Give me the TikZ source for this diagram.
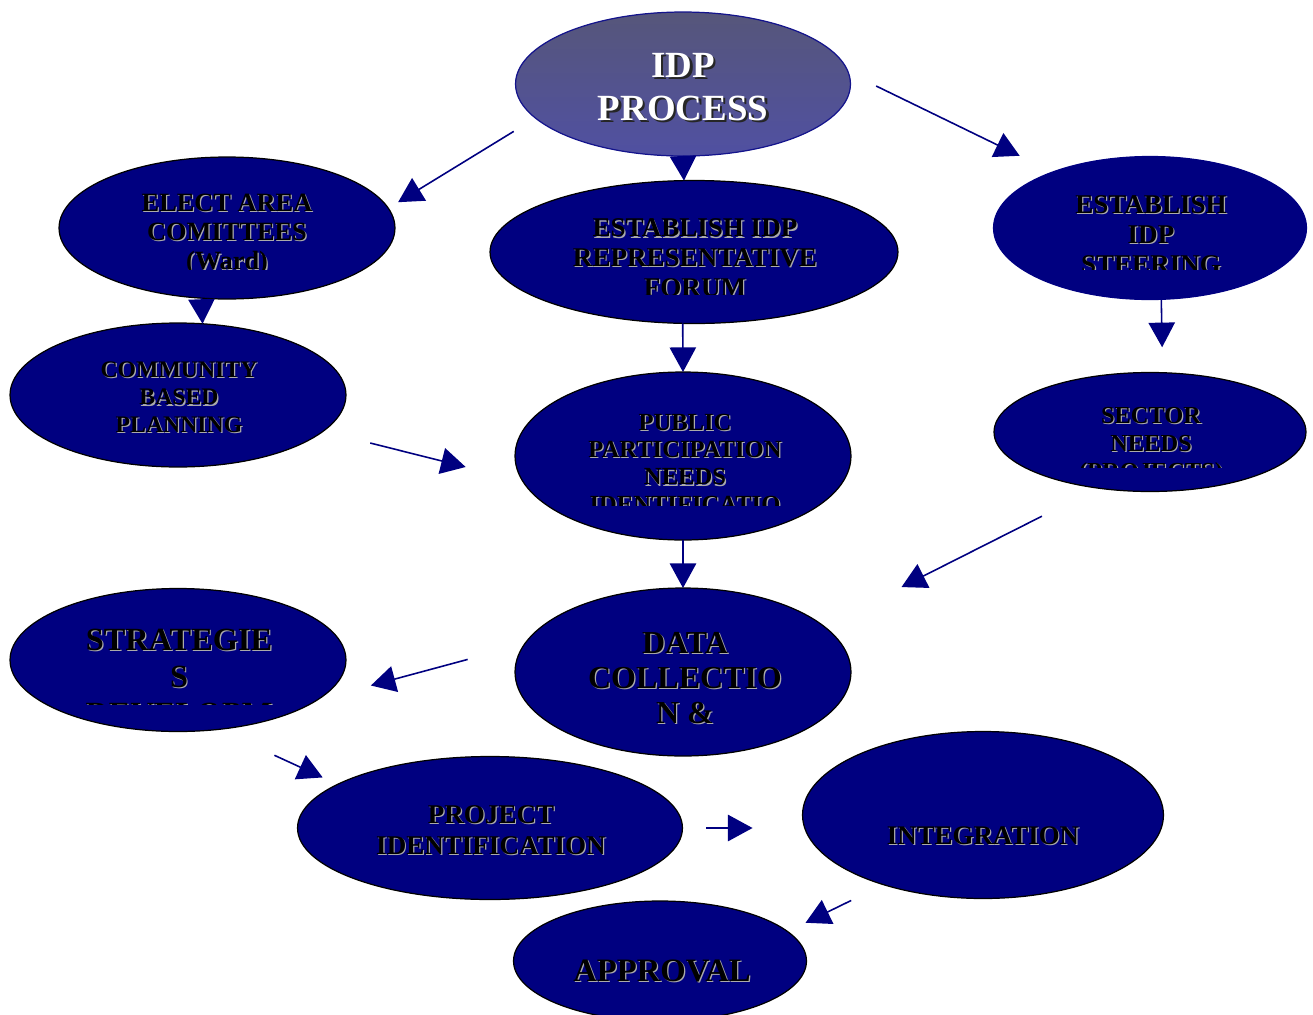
\documentclass[tikz,border=0pt]{standalone}
\usepackage{fontspec}
\setmainfont{Liberation Serif}
\usetikzlibrary{arrows.meta,shapes.geometric}

\definecolor{navyfill}{RGB}{0,0,128}
\definecolor{arrowblue}{RGB}{0,0,128}
\definecolor{embgray}{RGB}{170,170,170}
\definecolor{idptop}{RGB}{86,86,122}
\definecolor{idpbottom}{RGB}{80,80,162}
\definecolor{idpline}{RGB}{20,20,140}

\newcommand{\fsz}[2]{\fontsize{#1pt}{#2pt}\selectfont\bfseries}
\newcommand{\emb}[1]{\leavevmode\rlap{\hspace{0.7pt}\raisebox{-0.7pt}{\textcolor{embgray}{#1}}}#1}
\newcommand{\embw}[1]{\leavevmode\rlap{\hspace{1.4pt}\raisebox{-1.4pt}{\textcolor{black!85}{#1}}}\textcolor{white}{#1}}

\begin{document}
\begin{tikzpicture}[
    x=0.02cm, y=-0.02cm,
    oval/.style={ellipse, draw=black, line width=0.7pt, fill=navyfill,
                 inner sep=0pt, outer sep=0pt},
    txt/.style={align=center, anchor=north, inner sep=0pt, text=black},
    arr/.style={-{Triangle[length=14pt, width=15pt]}, draw=arrowblue, fill=arrowblue, line width=0.9pt}
]

\useasboundingbox (0,0) rectangle (1313,1015);

\node[oval, minimum width=6.7cm, minimum height=2.88cm,
      top color=idptop, bottom color=idpbottom, draw=idpline] (idp) at (683,84) {};
\node[oval, minimum width=6.72cm, minimum height=2.84cm] (elect) at (227,228) {};
\node[oval, minimum width=8.16cm, minimum height=2.86cm] (forum) at (694,252) {};
\node[oval, minimum width=6.26cm, minimum height=2.86cm, draw=navyfill] (steering) at (1150,228) {};
\node[oval, minimum width=6.72cm, minimum height=2.88cm] (community) at (178,395) {};
\node[oval, minimum width=6.72cm, minimum height=3.36cm] (public) at (683,456) {};
\node[oval, minimum width=6.24cm, minimum height=2.38cm] (sector) at (1150,432) {};
\node[oval, minimum width=6.72cm, minimum height=2.86cm] (strategies) at (178,660) {};
\node[oval, minimum width=6.72cm, minimum height=3.36cm] (data) at (683,672) {};
\node[oval, minimum width=7.7cm, minimum height=2.86cm] (project) at (490,828) {};
\node[oval, minimum width=7.22cm, minimum height=3.34cm] (integration) at (983,815) {};
\node[oval, minimum width=5.86cm, minimum height=2.4cm] (approval) at (660,961) {};

\node[txt, text=white, font=\fsz{21}{24.4}] (idptxt) at (683,53)
    {\embw{IDP}\\\embw{PROCESS}};

\begin{scope}
  \clip (0,0) rectangle (1313,269);
  \node[txt, font=\fsz{15}{16.7}] (electtxt) at (227,193.5)
      {\emb{ELECT AREA}\\\emb{COMITTEES}\\\emb{(Ward)}};
  \node[txt, font=\fsz{15.4}{17}] (steeringtxt) at (1151,195)
      {\emb{ESTABLISH}\\\emb{IDP}\\\emb{STEERING}};
\end{scope}

\begin{scope}
  \clip (0,0) rectangle (1313,294);
  \node[txt, font=\fsz{15.4}{17}] (forumtxt) at (695,218.5)
      {\emb{ESTABLISH IDP}\\\emb{REPRESENTATIVE}\\\emb{FORUM}};
\end{scope}

\node[txt, font=\fsz{13.5}{15.6}] (communitytxt) at (179,361.5)
    {\emb{COMMUNITY}\\\emb{BASED}\\\emb{PLANNING}};

\begin{scope}
  \clip (0,0) rectangle (1313,505.5);
  \node[txt, font=\fsz{14}{15.6}] (publictxt) at (685,413.5)
      {\emb{PUBLIC}\\\emb{PARTICIPATION}\\\emb{NEEDS}\\\emb{IDENTIFICATIO}};
\end{scope}

\begin{scope}
  \clip (0,0) rectangle (1313,467);
  \node[txt, font=\fsz{13.9}{16.1}] (sectortxt) at (1151,406.5)
      {\emb{SECTOR}\\\emb{NEEDS}\\\emb{(PROJECTS)}};
\end{scope}

\begin{scope}
  \clip (0,0) rectangle (1313,704);
  \node[txt, font=\fsz{18.4}{21.2}] (strategiestxt) at (179,628.5)
      {\emb{STRATEGIE}\\\emb{S}\\\emb{DEVELOPM}};
\end{scope}

\node[txt, font=\fsz{18.2}{19.8}] (datatxt) at (685,632)
    {\emb{DATA}\\\emb{COLLECTIO}\\\emb{N \&}};
\node[txt, font=\fsz{15.4}{17.9}] (projecttxt) at (491,805)
    {\emb{PROJECT}\\\emb{IDENTIFICATION}};
\node[txt, font=\fsz{15.3}{18}] (integrationtxt) at (983,826.5)
    {\emb{INTEGRATION}};
\node[txt, font=\fsz{18.6}{20}] (approvaltxt) at (662,959.5)
    {\emb{APPROVAL}};

\draw[arr, shorten <=0.51cm, shorten >=0.23cm] (idp.193.6) -- (elect.7.6);
\draw[arr] (idp.south) -- (forum.98.8);
\draw[arr, shorten <=0.62cm, shorten >=0.74cm] (idp.4.85) -- (steering.150.8);
\draw[arr] (elect.250.35) -- (community.71.4);
\draw[arr] (forum.261.2) -- (public.north);
\draw[arr, shorten >=0.51cm] (steering.279.6) -- (sector.78.6);
\draw[arr, shorten <=0.97cm, shorten >=1.18cm] (community.346.3) -- (public.189.6);
\draw[arr, shorten <=1.25cm, shorten >=1.74cm] (sector.227.8) -- (data.18.3);
\draw[arr] (public.south) -- (data.north);
\draw[arr, shorten <=1.18cm, shorten >=1.11cm] (data.170.3) -- (strategies.344.4);
\draw[arr, shorten <=1.24cm, shorten >=0.33cm] (strategies.300.8) -- (project.164.4);
\draw[arr, shorten <=0.48cm, shorten >=1.0cm] (project.east) -- (project.east -| integration.west);
\draw[arr, shorten <=0.72cm, shorten >=0.40cm] (integration.215.1) -- (approval.13.6);

\end{tikzpicture}
\end{document}
